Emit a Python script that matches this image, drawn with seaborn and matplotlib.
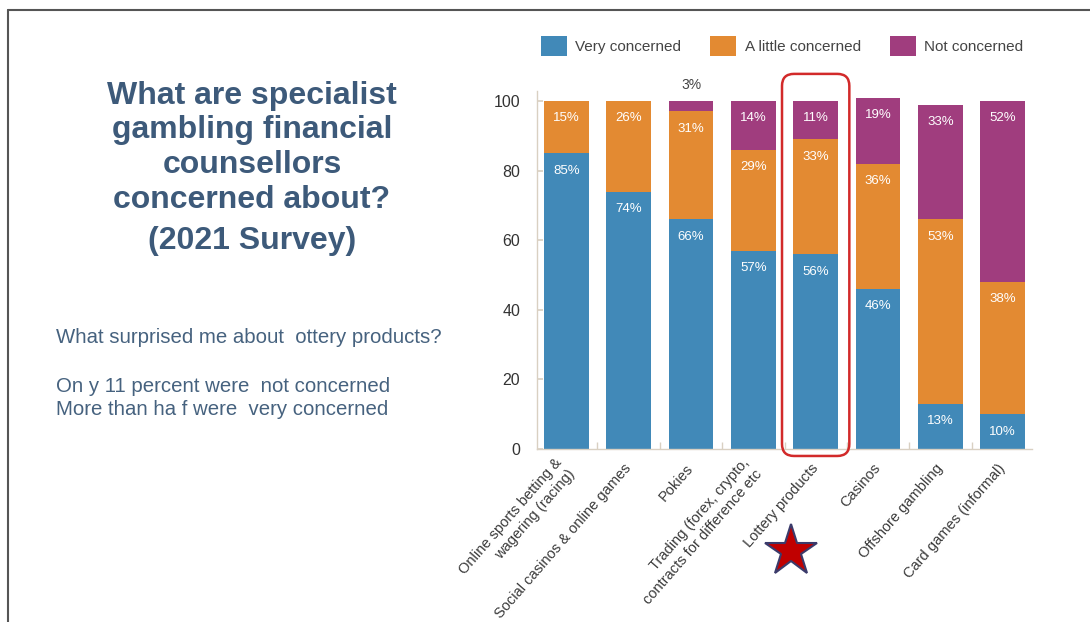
import numpy as np
import pandas as pd
import seaborn as sns
import matplotlib.pyplot as plt
import matplotlib.transforms as mtransforms
from matplotlib.patches import Patch, FancyBboxPatch
from matplotlib.lines import Line2D

# ---- data ----
categories = [
    "Online sports betting &\nwagering (racing)",
    "Social casinos & online games",
    "Pokies",
    "Trading (forex, crypto,\ncontracts for difference etc",
    "Lottery products",
    "Casinos",
    "Offshore gambling",
    "Card games (informal)",
]
very_concerned = [85, 74, 66, 57, 56, 46, 13, 10]
little_concerned = [15, 26, 31, 29, 33, 36, 53, 38]
not_concerned = [0, 0, 3, 14, 11, 19, 33, 52]
series_names = ["Very concerned", "A little concerned", "Not concerned"]
y_ticks = [0, 20, 40, 60, 80, 100]
highlight = "Lottery products"

BLUE = "#4189b8"
ORANGE = "#e38a32"
PURPLE = "#a03d7e"
BEIGE = "#d9d0c2"
TITLE_C = "#3d5a7a"
BODY_C = "#46627f"

sns.set_theme(style="white")
plt.rcParams["font.family"] = ["Liberation Sans", "DejaVu Sans"]

W, H = 1090, 622
fig = plt.figure(figsize=(W / 100, H / 100), dpi=100)
fig.patch.set_facecolor("white")

ax = fig.add_axes([537 / W, (H - 449) / H, 495 / W, 358.4 / H])

df = pd.DataFrame({
    "cat": categories,
    "very": very_concerned,
    "little": little_concerned,
    "not": not_concerned,
})
df["c1"] = df["very"]
df["c2"] = df["very"] + df["little"]
df["c3"] = df["c2"] + df["not"]

for col, colr in [("c3", PURPLE), ("c2", ORANGE), ("c1", BLUE)]:
    sns.barplot(data=df, x="cat", y=col, color=colr, width=0.72, saturation=1,
                linewidth=0, ax=ax, order=categories)

# value labels
for i, row in df.iterrows():
    bottom = 0
    for val in (row["very"], row["little"], row["not"]):
        if val >= 5:
            ax.text(i, bottom + val - 5, f"{val}%", ha="center", va="center",
                    color="white", fontsize=9.5)
        elif val > 0:
            ax.text(i, bottom + val + 4.6, f"{val}%", ha="center", va="center",
                    color="#444444", fontsize=10)
        bottom += val

ax.set_xlim(-0.47, len(categories) - 0.53)
ax.set_ylim(0, 103)
ax.set_yticks(y_ticks)
ax.set_xlabel("")
ax.set_ylabel("")
for s in ("top", "right"):
    ax.spines[s].set_visible(False)
for s in ("left", "bottom"):
    ax.spines[s].set_color(BEIGE)
    ax.spines[s].set_linewidth(1.0)

ax.tick_params(axis="y", direction="in", length=4, color=BEIGE, labelsize=11.5,
               labelcolor="#333333", pad=12, left=True)
ax.tick_params(axis="x", which="major", length=0, pad=12, labelsize=10.5,
               labelcolor="#3a3a3a")
ax.set_xticks(np.arange(len(categories) - 1) + 0.5, minor=True)
ax.tick_params(axis="x", which="minor", direction="in", length=5, color=BEIGE,
               bottom=True)

for lbl in ax.get_xticklabels():
    lbl.set_rotation(49)
    lbl.set_ha("right")
    lbl.set_va("center")
    lbl.set_rotation_mode("anchor")
    lbl.set_linespacing(1.3)

# legend
handles = [Patch(facecolor=c, edgecolor="none", label=n)
           for c, n in zip([BLUE, ORANGE, PURPLE], series_names)]
leg = fig.legend(handles=handles, loc="center left",
                 bbox_to_anchor=(541 / W, 1 - 46 / H), ncol=3, frameon=False,
                 fontsize=11, handlelength=1.7, handleheight=1.65,
                 handletextpad=0.55, columnspacing=1.9, borderpad=0,
                 borderaxespad=0)
for t in leg.get_texts():
    t.set_color("#444444")

# highlight rectangle around the lottery bar
hi = categories.index(highlight)
(x0, y0), (x1, y1) = ax.transData.transform([(hi - 0.54, -2), (hi + 0.54, 107.8)])
rect = FancyBboxPatch((x0, y0), x1 - x0, y1 - y0,
                      boxstyle="round,pad=0,rounding_size=12",
                      transform=mtransforms.IdentityTransform(), fill=False,
                      edgecolor="#d22a2a", linewidth=1.8, clip_on=False)
fig.add_artist(rect)

# star
star_tr = mtransforms.blended_transform_factory(ax.transData, fig.transFigure)
ax.plot([hi - 0.4], [1 - 551 / H], marker="*", markersize=39,
        markerfacecolor="#c00000", markeredgecolor="#3b3b6b",
        markeredgewidth=1.5, transform=star_tr, clip_on=False)

# slide texts
title_lines = ["What are specialist", "gambling financial", "counsellors",
               "concerned about?", "(2021 Survey)"]
baselines = [104, 138, 173, 208, 249]
for line, b in zip(title_lines, baselines):
    fig.text(252 / W, 1 - b / H, line, ha="center", va="baseline",
             fontsize=23, fontweight="bold", color=TITLE_C)

body_lines = ["What surprised me about  ottery products?",
              "On y 11 percent were  not concerned",
              "More than ha f were  very concerned"]
body_base = [343, 392, 415]
for line, b in zip(body_lines, body_base):
    fig.text(56 / W, 1 - b / H, line, ha="left", va="baseline",
             fontsize=14.7, color=BODY_C)

# slide border
fig.add_artist(Line2D([8 / W, 1], [1 - 10 / H, 1 - 10 / H],
                      transform=fig.transFigure, color="#555555", lw=1.5))
fig.add_artist(Line2D([8 / W, 8 / W], [0, 1 - 10 / H],
                      transform=fig.transFigure, color="#555555", lw=1.5))

fig.savefig("out.png", dpi=100)
